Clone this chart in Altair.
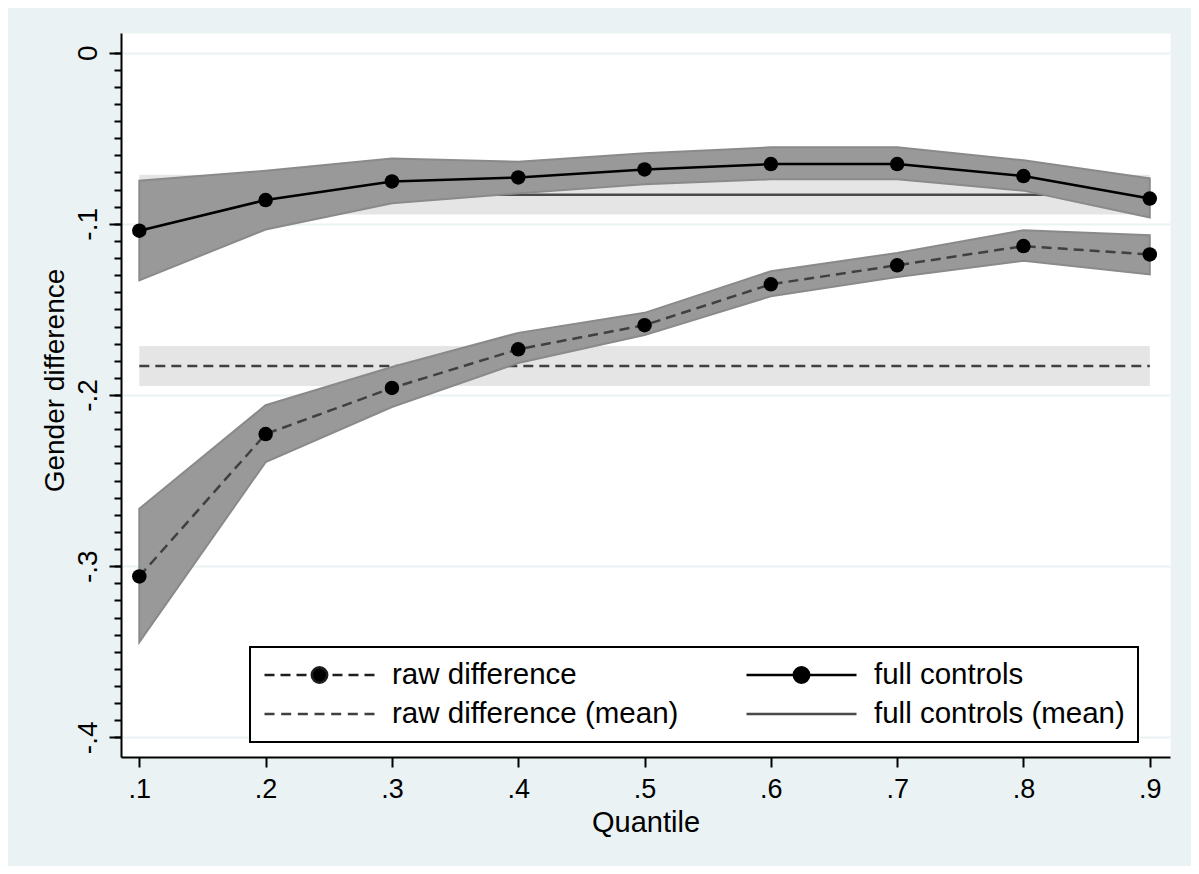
import altair as alt
import pandas as pd

# ---------------- data ----------------
quantiles = [0.1, 0.2, 0.3, 0.4, 0.5, 0.6, 0.7, 0.8, 0.9]

raw_est = [-0.306, -0.2228, -0.1959, -0.1733, -0.1592, -0.1353, -0.1242, -0.1130, -0.1179]
raw_lo = [-0.3444, -0.2392, -0.2070, -0.1813, -0.1650, -0.1423, -0.1310, -0.1216, -0.1296]
raw_hi = [-0.2664, -0.2060, -0.1836, -0.1637, -0.1520, -0.1277, -0.1170, -0.1037, -0.1066]

full_est = [-0.1040, -0.0861, -0.0752, -0.0729, -0.0682, -0.0651, -0.0651, -0.0721, -0.0852]
full_lo = [-0.1330, -0.1033, -0.0880, -0.0822, -0.0768, -0.0740, -0.0740, -0.0806, -0.0963]
full_hi = [-0.0748, -0.0690, -0.0618, -0.0637, -0.0588, -0.0553, -0.0553, -0.0629, -0.0735]

raw_mean, raw_mean_lo, raw_mean_hi = -0.1830, -0.1947, -0.1713
full_mean, full_mean_lo, full_mean_hi = -0.0830, -0.0945, -0.0713

series_names = ["raw difference", "full controls"]
# legend fills its grid column by column: col 1 = raw, col 2 = full
legend_labels = ["raw difference", "raw difference (mean)",
                 "full controls", "full controls (mean)"]

x_ticks = quantiles
y_ticks = [0, -0.1, -0.2, -0.3, -0.4]
y_minor_ticks = [round(-0.01 * i, 2) for i in range(41)]

x_domain = [0.0855, 0.916]
y_domain = [-0.4115, 0.0115]

# ---------------- tables ----------------
rows = []
for i, qv in enumerate(quantiles):
    rows.append(dict(q=qv, series=series_names[0], est=raw_est[i], lo=raw_lo[i],
                     hi=raw_hi[i], mean=raw_mean, mlo=raw_mean_lo, mhi=raw_mean_hi))
    rows.append(dict(q=qv, series=series_names[1], est=full_est[i], lo=full_lo[i],
                     hi=full_hi[i], mean=full_mean, mlo=full_mean_lo, mhi=full_mean_hi))
df = pd.DataFrame(rows)
df_raw = df[df.series == series_names[0]]
df_full = df[df.series == series_names[1]]
df_leg = pd.DataFrame({"series": legend_labels})

FONT = "Liberation Sans"

xs = alt.Scale(domain=x_domain, nice=False, zero=False)
ys = alt.Scale(domain=y_domain, nice=False, zero=False)

x_axis = alt.Axis(values=x_ticks, title="Quantile",
                  labelExpr="'.' + format(round(datum.value * 10), 'd')",
                  grid=False, domainColor="black", domainWidth=2,
                  tickColor="black", tickWidth=2, tickSize=10,
                  labelFont=FONT, labelFontSize=27, labelColor="black",
                  labelBaseline="alphabetic", labelPadding=30,
                  titleFont=FONT, titleFontSize=29, titleFontWeight="normal",
                  titleColor="black", titleBaseline="alphabetic", titleY=74)

y_axis = alt.Axis(values=y_ticks, title="Gender difference", orient="left",
                  labelExpr="datum.value == 0 ? '0' : '-.' + format(round(-datum.value * 10), 'd')",
                  grid=True, gridColor="#eaf2f3", gridWidth=2,
                  domainColor="black", domainWidth=2,
                  tickColor="black", tickWidth=2, tickSize=12,
                  labelFont=FONT, labelFontSize=28, labelColor="black",
                  labelAngle=270, labelAlign="center", labelBaseline="alphabetic",
                  labelPadding=13,
                  titleFont=FONT, titleFontSize=28, titleFontWeight="normal",
                  titleColor="black", titleAngle=270, titleAlign="center",
                  titleBaseline="alphabetic", titleX=-58, titleY=347)

y_minor_axis = alt.Axis(values=y_minor_ticks, orient="left", title=None,
                        labels=False, domain=False, grid=False,
                        tickColor="black", tickWidth=2, tickSize=7)

X = alt.X("q:Q", scale=xs)

# mean bands
mean_band = alt.Chart(df).mark_area(color="#e5e5e5", opacity=1).encode(
    x=alt.X("q:Q", scale=xs, axis=x_axis),
    y=alt.Y("mlo:Q", scale=ys, axis=y_axis),
    y2="mhi:Q",
    detail="series:N",
)

raw_mean_line = alt.Chart(df_raw).mark_line(
    color="#404040", strokeWidth=2.5, strokeDash=[10, 6]).encode(
    x=X,
    y=alt.Y("mean:Q", scale=ys, axis=None),
)

full_mean_line = alt.Chart(df_full).mark_line(
    color="#4a4a4a", strokeWidth=2.5).encode(
    x=X,
    y=alt.Y("mean:Q", scale=ys, axis=None),
)

ci_band = alt.Chart(df).mark_area(
    fill="#999999", stroke="#8a8a8a", strokeWidth=2, opacity=1).encode(
    x=X,
    y=alt.Y("lo:Q", scale=ys, axis=None),
    y2="hi:Q",
    detail="series:N",
)

raw_line = alt.Chart(df_raw).mark_line(
    color="#404040", strokeWidth=2.5, strokeDash=[10, 6]).encode(
    x=X,
    y=alt.Y("est:Q", scale=ys, axis=None),
)

full_line = alt.Chart(df_full).mark_line(color="black", strokeWidth=2.5).encode(
    x=X,
    y=alt.Y("est:Q", scale=ys, axis=None),
)

pts = alt.Chart(df).mark_circle(color="black", size=210, opacity=1).encode(
    x=X,
    y=alt.Y("est:Q", scale=ys, axis=y_minor_axis),
)

# legend symbols (custom paths: line segments + dot)
dot = "M0.14,0A0.14,0.14,0,1,1,-0.14,0A0.14,0.14,0,1,1,0.14,0Z"
p_raw = ("M-1,0L-0.818,0M-0.709,0L-0.527,0M-0.418,0L-0.236,0"
         "M0.236,0L0.418,0M0.527,0L0.709,0M0.818,0L1,0" + dot)
p_full = "M-1,0L1,0" + dot
p_raw_mean = ("M-1,0L-0.818,0M-0.697,0L-0.515,0M-0.394,0L-0.212,0M-0.091,0L0.091,0"
              "M0.212,0L0.394,0M0.515,0L0.697,0M0.818,0L1,0")
p_full_mean = "M-1,0L1,0"

leg = alt.Legend(title=None, orient="none", legendX=129, legendY=614,
                 columns=2, columnPadding=66, rowPadding=9, padding=13,
                 clipHeight=30, symbolSize=12100, symbolStrokeWidth=2.5,
                 symbolOpacity=1, labelOffset=16, labelLimit=600,
                 labelFont=FONT, labelFontSize=29.5, labelColor="black",
                 strokeColor="black", fillColor="white")

legend_layer = alt.Chart(df_leg).mark_point(
    filled=True, fill="black", strokeWidth=2.5, opacity=0).encode(
    shape=alt.Shape("series:N",
                    scale=alt.Scale(domain=legend_labels,
                                    range=[p_raw, p_raw_mean, p_full, p_full_mean]),
                    legend=leg),
    stroke=alt.Stroke("series:N",
                      scale=alt.Scale(domain=legend_labels,
                                      range=["#1e1e1e", "#404040", "black", "#4a4a4a"]),
                      legend=leg),
)

chart = alt.layer(
    mean_band, raw_mean_line, full_mean_line, ci_band,
    raw_line, full_line, pts, legend_layer
).resolve_axis(y="independent").properties(
    width=1049, height=724,
    padding={"left": 113, "top": 25, "right": 21, "bottom": 109},
    autosize=alt.AutoSizeParams(type="none"),
    view=alt.ViewBackground(fill="white", stroke="transparent"),
).configure(background="#eaf2f3").configure_view(
    fill="white", stroke="transparent"
).configure_legend(strokeWidth=2)

chart.save("out.html", embed_options={"renderer": "svg", "actions": False})
